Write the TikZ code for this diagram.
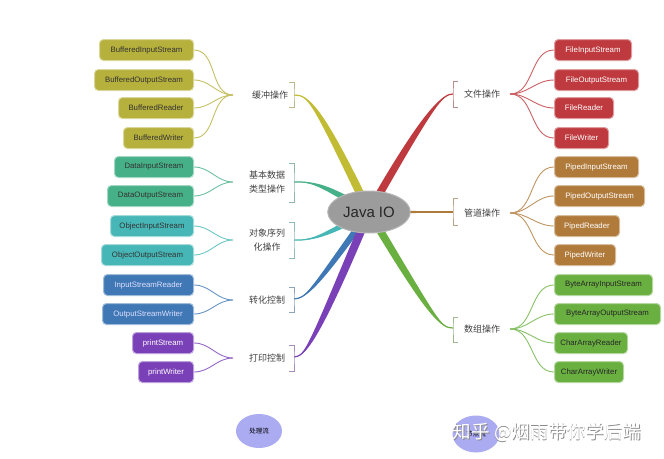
\documentclass[tikz,border=0pt]{standalone}
\usepackage{fontspec}
\setmainfont{Liberation Sans}
\newfontfamily\cjk{Noto Sans CJK SC}
\usepackage{tikz}
\usetikzlibrary{calc,positioning,shapes.geometric,backgrounds}
\definecolor{bufc}{HTML}{B6B03C}
\definecolor{datc}{HTML}{46B088}
\definecolor{objc}{HTML}{47B6B6}
\definecolor{cnvc}{HTML}{3F78B5}
\definecolor{prtc}{HTML}{7A40B8}
\definecolor{filc}{HTML}{BE3A3E}
\definecolor{pipc}{HTML}{B07A3B}
\definecolor{arrc}{HTML}{6AB041}
\definecolor{ioc}{HTML}{9C9C9C}
\definecolor{lav}{HTML}{ABABF2}
% tapered branch: colour, bracket point, ctrl 1, ctrl 2, end, half width
\newcommand{\branch}[6]{%
  \fill[#1] (#2) .. controls (#3) and ($(#4)+(#6)$) .. ($(#5)+(#6)$)
    -- ($(#5)-(#6)$) .. controls ($(#4)-(#6)$) and (#3) .. (#2) -- cycle;
  \draw[#1,line width=1.2pt] (#2) .. controls (#3) and (#4) .. (#5);}

\begin{document}
\begin{tikzpicture}[x=1pt,y=-1pt,
  box/.style={rounded corners=4pt,fill=#1,draw=#1!50!white,line width=1pt,
    minimum height=21,inner xsep=3,font=\fontsize{7.8}{9}\selectfont},
  lbox/.style={box=#1,anchor=east},
  rbox/.style={box=#1,anchor=west},
  grp/.style={font=\cjk\fontsize{9}{14}\selectfont,text=black!75,align=center},
  brk/.style={draw=#1!55!gray!70!white,line width=1pt},
  fan/.style={draw=#1!80!white,line width=0.9pt}]
  \useasboundingbox (0,0) rectangle (664,458);

  % centre
  \node[ellipse,fill=ioc,draw=ioc!75!white,line width=1pt,minimum width=78,minimum height=42,
    font=\fontsize{15}{18}\selectfont,text=black!85] (io) at (369,212) {Java IO};

  % group labels
  \node[grp] (buf) at (270,95) {缓冲操作};
  \node[grp] (dat) at (267,182) {基本数据\\类型操作};
  \node[grp] (obj) at (267,240) {对象序列\\化操作};
  \node[grp] (cnv) at (267,300) {转化控制};
  \node[grp] (prt) at (267,358) {打印控制};
  \node[grp] (fil) at (482,94) {文件操作};
  \node[grp] (pip) at (482,213) {管道操作};
  \node[grp] (arr) at (482,329) {数组操作};

  % brackets
  \coordinate (bufk) at (294,95);  \draw[brk=bufc] (289,82) -| (bufk) |- (289,107);
  \coordinate (datk) at (294,182); \draw[brk=datc] (289,163) -| (datk) |- (289,202);
  \coordinate (objk) at (294,240); \draw[brk=objc] (289,222) -| (objk) |- (289,258);
  \coordinate (cnvk) at (294,299); \draw[brk=cnvc] (289,287) -| (cnvk) |- (289,312);
  \coordinate (prtk) at (294,357); \draw[brk=prtc] (289,345) -| (prtk) |- (289,371);
  \coordinate (filk) at (453,94);  \draw[brk=filc] (458,81) -| (filk) |- (458,107);
  \coordinate (pipk) at (453,212); \draw[brk=pipc] (458,198) -| (pipk) |- (458,225);
  \coordinate (arrk) at (453,328); \draw[brk=arrc] (458,317) -| (arrk) |- (458,342);

  % left boxes
  \node[lbox=bufc,minimum width=94,text=black!80] (bis) at (194,50) {BufferedInputStream};
  \node[lbox=bufc,minimum width=99,text=black!80] (bos) at (194,80) {BufferedOutputStream};
  \node[lbox=bufc,minimum width=75,text=black!80] (brd) at (194,108) {BufferedReader};
  \node[lbox=bufc,minimum width=70,text=black!80] (bwr) at (194,138) {BufferedWriter};
  \node[lbox=datc,minimum width=79,text=black!80] (dis) at (194,167) {DataInputStream};
  \node[lbox=datc,minimum width=86,text=black!80] (dos) at (194,196) {DataOutputStream};
  \node[lbox=objc,minimum width=83,text=black!80] (ois) at (194,226) {ObjectInputStream};
  \node[lbox=objc,minimum width=92,text=black!80] (oos) at (194,255) {ObjectOutputStream};
  \node[lbox=cnvc,minimum width=90,text=white!88!blue] (isr) at (194,285) {InputStreamReader};
  \node[lbox=cnvc,minimum width=91,text=white!88!blue] (osw) at (194,314) {OutputStreamWriter};
  \node[lbox=prtc,minimum width=61,text=white] (pst) at (194,343) {printStream};
  \node[lbox=prtc,minimum width=55,text=white] (pwr) at (194,372) {printWriter};

  % right boxes
  \node[rbox=filc,minimum width=77,text=white] (fis) at (554,50) {FileInputStream};
  \node[rbox=filc,minimum width=84,text=white] (fos) at (554,80) {FileOutputStream};
  \node[rbox=filc,minimum width=59,text=white] (frd) at (554,108) {FileReader};
  \node[rbox=filc,minimum width=54,text=white] (fwr) at (554,138) {FileWriter};
  \node[rbox=pipc,minimum width=84,text=white] (pis) at (554,167) {PipedInputStream};
  \node[rbox=pipc,minimum width=90,text=white] (pos) at (554,196) {PipedOutputStream};
  \node[rbox=pipc,minimum width=65,text=white] (prd) at (554,226) {PipedReader};
  \node[rbox=pipc,minimum width=61,text=white] (pwt) at (554,255) {PipedWriter};
  \node[rbox=arrc,minimum width=98,text=black!85] (bis2) at (554,285) {ByteArrayInputStream};
  \node[rbox=arrc,minimum width=106,text=black!85] (bos2) at (554,314) {ByteArrayOutputStream};
  \node[rbox=arrc,minimum width=73,text=black!85] (crd) at (554,343) {CharArrayReader};
  \node[rbox=arrc,minimum width=69,text=black!85] (cwr) at (554,372) {CharArrayWriter};

  % fans
  \coordinate (buff) at (233,95);  \coordinate (datf) at (233,182);
  \coordinate (objf) at (233,240); \coordinate (cnvf) at (233,300);
  \coordinate (prtf) at (233,358); \coordinate (filf) at (510,94);
  \coordinate (pipf) at (510,213); \coordinate (arrf) at (510,329);
  \foreach \b in {bis,bos,brd,bwr} \draw[fan=bufc] (buff) to[out=180,in=0] (\b.east);
  \foreach \b in {dis,dos} \draw[fan=datc] (datf) to[out=180,in=0] (\b.east);
  \foreach \b in {ois,oos} \draw[fan=objc] (objf) to[out=180,in=0] (\b.east);
  \foreach \b in {isr,osw} \draw[fan=cnvc] (cnvf) to[out=180,in=0] (\b.east);
  \foreach \b in {pst,pwr} \draw[fan=prtc] (prtf) to[out=180,in=0] (\b.east);
  \foreach \b in {fis,fos,frd,fwr} \draw[fan=filc] (filf) to[out=0,in=180] (\b.west);
  \foreach \b in {pis,pos,prd,pwt} \draw[fan=pipc] (pipf) to[out=0,in=180] (\b.west);
  \foreach \b in {bis2,bos2,crd,cwr} \draw[fan=arrc] (arrf) to[out=0,in=180] (\b.west);

  % main branches
  \begin{pgfonlayer}{background}
    \branch{bufc!85!yellow}{bufk}{308,95}{316,101}{io.center}{4.5,0}
    \branch{datc}{datk}{315,181}{328,188}{io.center}{0,4}
    \branch{objc}{objk}{315,241}{328,233}{io.center}{0,3.5}
    \branch{cnvc}{cnvk}{306,298}{313,291}{io.center}{4,0}
    \branch{prtc}{prtk}{305,356}{312,348}{io.center}{4.5,0}
    \branch{filc}{filk}{443,94}{430,105}{io.center}{4.5,0}
    \branch{pipc}{pipk}{440,212}{420,212}{io.center}{0,1.5}
    \branch{arrc}{arrk}{441,328}{434,321}{io.center}{4.5,0}
  \end{pgfonlayer}

  % legend
  \node[ellipse,fill=lav,minimum width=46,minimum height=34,
    font=\cjk\fontsize{6.5}{7}\selectfont] (proc) at (259,431) {处理流};
  \node[ellipse,fill=lav,minimum width=47,minimum height=37,
    font=\cjk\fontsize{6.5}{7}\selectfont] (nodef) at (476,434) {节点流};
  \node[font=\cjk\fontsize{18.5}{20}\selectfont,text=black!45] (wms) at (547.8,432.8) {知乎 @烟雨带你学后端};
  \node[font=\cjk\fontsize{18.5}{20}\selectfont,text=white] (wm) at (547,432) {知乎 @烟雨带你学后端};
\end{tikzpicture}
\end{document}
